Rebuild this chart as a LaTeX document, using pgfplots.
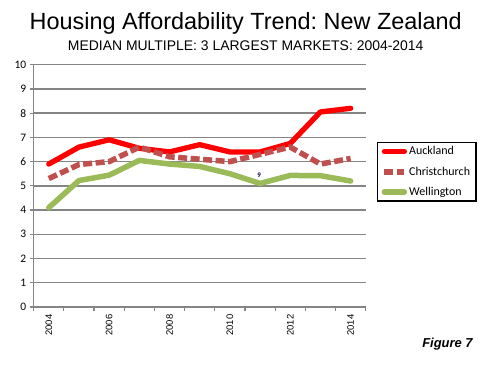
\documentclass[border=0pt]{standalone}
\usepackage{fontspec}
\setmainfont{Liberation Sans}
\newfontfamily\calibri{Carlito}
\usepackage{pgfplots}
\pgfplotsset{compat=1.18}
\definecolor{auck}{HTML}{FF0000}
\definecolor{chch}{HTML}{C0504D}
\definecolor{well}{HTML}{9BBB59}
\definecolor{gridc}{HTML}{858585}
\frenchspacing
\begin{document}
\begin{tikzpicture}[x=1bp,y=1bp]
\path[use as bounding box] (0,0) rectangle (493,365);
\node[anchor=base, font=\fontsize{23.5}{26}\selectfont] at (245.7,335.7) {Housing Affordability Trend: New Zealand};
\node[anchor=base, font=\fontsize{14}{16}\selectfont] at (245.7,315) {MEDIAN MULTIPLE: 3 LARGEST MARKETS: 2004-2014};
\node[anchor=base, font=\bfseries\itshape\fontsize{13}{15}\selectfont] at (447.5,17.5) {Figure 7};
\begin{axis}[
  at={(33.7bp,58bp)}, anchor=south west,
  scale only axis, width=332bp, height=242.3bp,
  xmin=2003.5, xmax=2014.5, ymin=0, ymax=10,
  axis x line*=bottom, axis y line*=left,
  axis line style={gridc, line width=1.4pt, -},
  ytick={0,1,...,10},
  ymajorgrids, grid style={gridc, line width=1.4pt},
  xtick={2004,2006,...,2014},
  minor xtick={2003.5,2004.5,...,2014.5},
  major x tick style={draw=none},
  minor x tick style={gridc, line width=1.2pt},
  y tick style={gridc, line width=1.2pt},
  tick align=outside, major tick length=4bp, minor tick length=4bp,
  xticklabel style={rotate=90, anchor=east, font=\fontsize{9.5}{9.5}\selectfont, /pgf/number format/1000 sep={}, /pgf/number format/assume math mode=true},
  yticklabel style={font=\calibri\fontsize{11.5}{11.5}\selectfont, /pgf/number format/assume math mode=true},
  legend style={at={(rel axis cs:1.034,0.681)}, anchor=north west, draw=black, line width=1.3pt,
     font=\calibri\fontsize{12}{13}\selectfont, row sep=6.5bp, inner xsep=4bp, inner ysep=2bp},
  legend cell align=left,
  legend image code/.code={\draw[#1] (0bp,0bp) -- (20bp,0bp);},
]
\addplot[auck, line width=5.3bp, line join=round, line cap=round] coordinates {
(2004,5.9) (2005,6.6) (2006,6.9) (2007,6.55) (2008,6.4) (2009,6.7) (2010,6.4) (2011,6.4) (2012,6.75) (2013,8.05) (2014,8.2)};
\addlegendentry{Auckland}
\addplot[chch, line width=5.5bp, dash pattern=on 9bp off 3.5bp] coordinates {
(2004,5.3) (2005,5.88) (2006,6.0) (2007,6.6) (2008,6.2) (2009,6.1) (2010,6.0) (2011,6.3) (2012,6.6) (2013,5.9) (2014,6.13)};
\addlegendentry{Christchurch}
\addplot[well, line width=5.5bp, line join=round, line cap=round] coordinates {
(2004,4.1) (2005,5.22) (2006,5.44) (2007,6.05) (2008,5.9) (2009,5.8) (2010,5.5) (2011,5.1) (2012,5.43) (2013,5.42) (2014,5.2)};
\addlegendentry{Wellington}
\node[font=\calibri\bfseries\fontsize{7}{7}\selectfont, text=blue!40!black] at (axis cs:2010.97,5.45) {9};
\end{axis}
\end{tikzpicture}
\end{document}
